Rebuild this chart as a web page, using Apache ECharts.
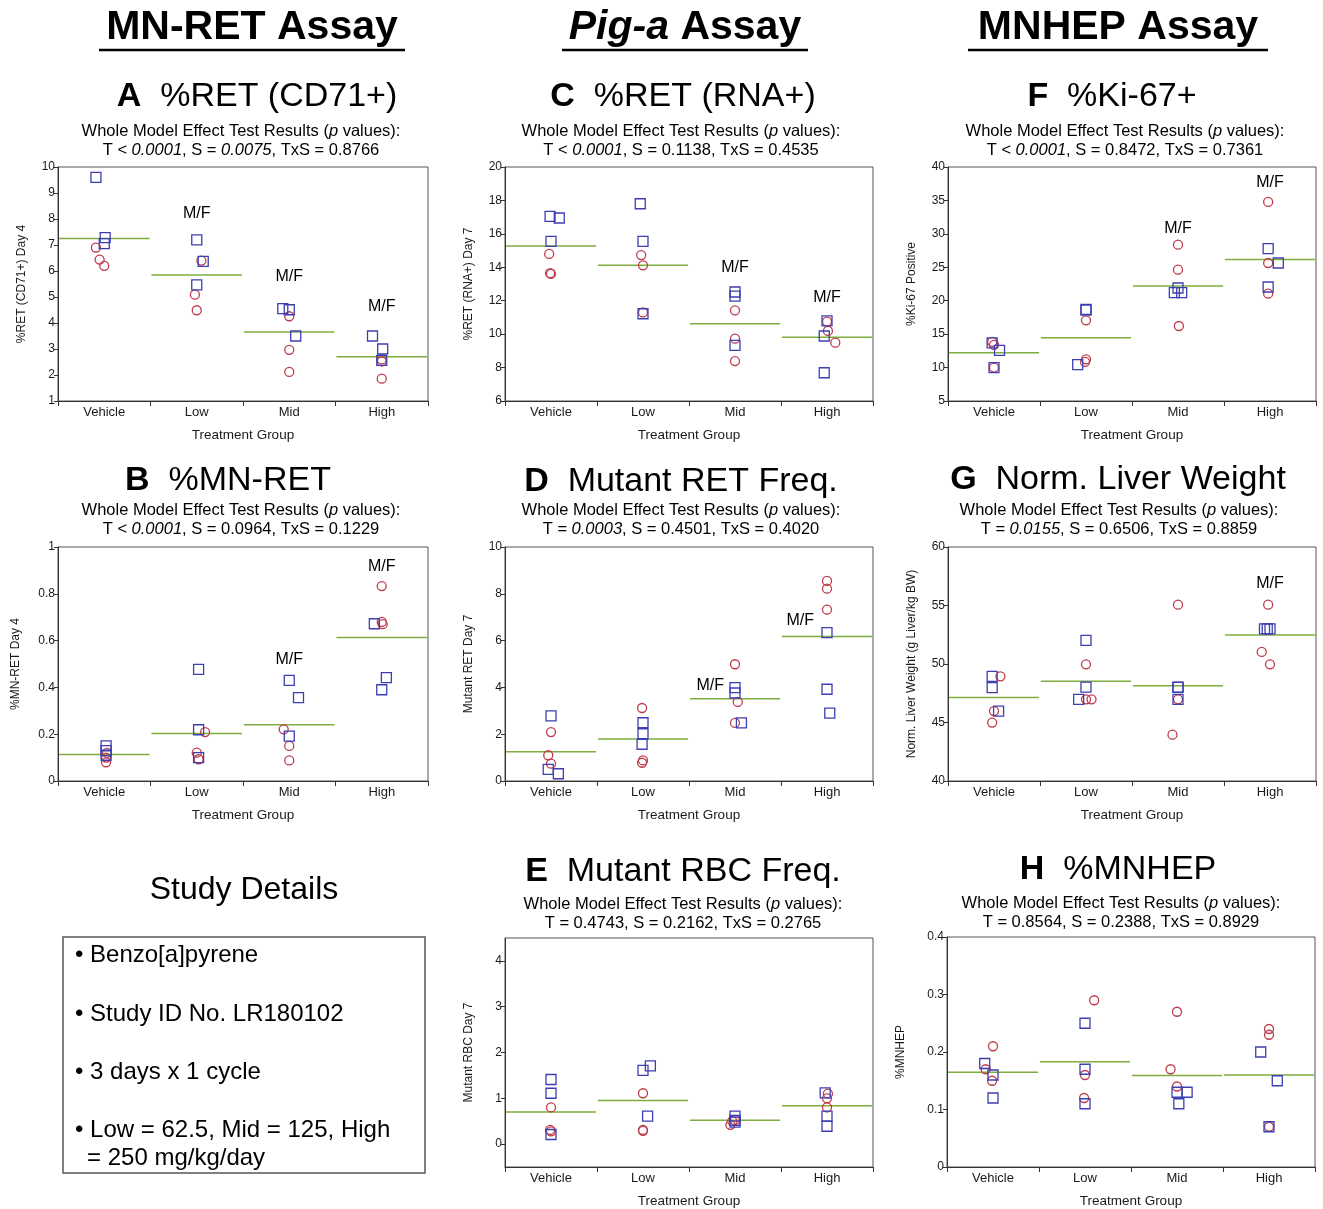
<!DOCTYPE html>
<html>
<head>
<meta charset="utf-8">
<script src="https://cdn.jsdelivr.net/npm/echarts@6/dist/echarts.min.js"></script>
<style>
  html, body { margin: 0; padding: 0; background: #fff; }
  #chart { width: 1323px; height: 1209px; }
</style>
</head>
<body>
<div id="chart"></div>
<script>
// Treatment groups shared by every panel
const groups = ['Vehicle', 'Low', 'Mid', 'High'];

// Per panel: male (squares) and female (circles) values per group,
// horizontal jitter per point (in category units), group means, M/F marker positions.

// A: %RET (CD71+) Day 4
const retCd71Male = [[9.6, 7.28, 7.05], [7.2, 6.37, 5.47], [4.55, 4.51, 3.5], [3.5, 3.0, 2.56]];
const retCd71MaleJit = [[-0.09, 0.01, 0], [0, 0.07, 0], [-0.07, 0, 0.07], [-0.1, 0.01, 0]];
const retCd71Female = [[6.9, 6.44, 6.2], [6.4, 5.09, 4.49], [4.26, 2.97, 2.12], [2.6, 2.52, 1.86]];
const retCd71FemaleJit = [[-0.09, -0.05, 0], [0.05, -0.02, 0], [0, 0, 0], [0, 0, 0]];
const retCd71Means = [7.25, 5.85, 3.65, 2.7];
const retCd71Sig = [[1, 8.2], [2, 5.77], [3, 4.64]];

// C: %RET (RNA+) Day 7
const retRnaMale = [[17.05, 16.95, 15.55], [17.8, 15.55, 11.22], [12.52, 12.28, 9.33], [10.79, 9.89, 7.69]];
const retRnaMaleJit = [[-0.01, 0.09, 0], [-0.03, 0, 0], [0, 0, 0], [0, -0.03, -0.03]];
const retRnaFemale = [[14.8, 13.65, 13.6], [14.73, 14.12, 11.3], [11.42, 9.73, 8.39], [10.75, 10.19, 9.49]];
const retRnaFemaleJit = [[-0.02, -0.01, 0], [-0.02, 0, 0], [0, 0, 0], [0, 0.01, 0.09]];
const retRnaMeans = [15.27, 14.12, 10.62, 9.82];
const retRnaSig = [[2, 14.0], [3, 12.2]];

// F: %Ki-67 positive
const ki67Male = [[13.68, 12.58, 10.0], [18.71, 18.6, 10.44], [21.9, 21.2, 21.2], [27.79, 25.64, 22.05]];
const ki67MaleJit = [[-0.02, 0.06, 0], [0, 0, -0.09], [0, -0.04, 0.04], [-0.02, 0.09, -0.02]];
const ki67Female = [[13.83, 13.4, 10.0], [17.07, 11.24, 10.84], [28.38, 24.65, 16.22], [34.77, 25.64, 21.06]];
const ki67FemaleJit = [[-0.02, 0, 0], [0, 0, -0.01], [0, 0, 0.01], [-0.02, -0.02, -0.02]];
const ki67Means = [12.23, 14.45, 22.2, 26.18];
const ki67Sig = [[2, 30.8], [3, 37.6]];

// B: %MN-RET Day 4
const mnRetMale = [[0.15, 0.13, 0.11], [0.477, 0.219, 0.1], [0.43, 0.356, 0.192], [0.672, 0.442, 0.39]];
const mnRetMaleJit = [[0.02, 0.02, 0.02], [0.02, 0.02, 0.02], [0, 0.1, 0], [-0.08, 0.05, 0]];
const mnRetFemale = [[0.12, 0.1, 0.08], [0.209, 0.121, 0.093], [0.221, 0.15, 0.088], [0.833, 0.68, 0.67]];
const mnRetFemaleJit = [[0.03, 0.02, 0.02], [0.09, 0, 0.02], [-0.06, 0, 0], [0, 0, 0.01]];
const mnRetMeans = [0.113, 0.203, 0.24, 0.613];
const mnRetSig = [[2, 0.52], [3, 0.915]];

// D: Mutant RET Day 7
const mutRetMale = [[2.78, 0.5, 0.31], [2.49, 2.02, 1.57], [3.99, 3.76, 2.48], [6.34, 3.92, 2.9]];
const mutRetMaleJit = [[0, -0.03, 0.08], [0, 0, -0.01], [0, 0, 0.07], [0, 0, 0.03]];
const mutRetFemale = [[2.09, 1.1, 0.74], [3.12, 0.88, 0.78], [4.99, 3.38, 2.48], [8.55, 8.22, 7.32]];
const mutRetFemaleJit = [[0, -0.03, 0], [-0.01, 0, -0.01], [0, 0.03, 0], [0, 0, 0]];
const mutRetMeans = [1.25, 1.8, 3.52, 6.18];
const mutRetSig = [[1.73, 4.09], [2.71, 6.87]];

// G: Normalised liver weight
const liverMale = [[48.95, 47.98, 45.98], [52.02, 48.03, 46.98], [48.03, 48.0, 46.98], [53.0, 53.0, 53.0]];
const liverMaleJit = [[-0.02, -0.02, 0.05], [0, 0, -0.08], [0, 0, 0], [-0.06, 0, -0.03]];
const liverFemale = [[48.95, 45.98, 44.99], [49.97, 46.98, 46.98], [55.07, 46.98, 43.96], [55.07, 51.03, 49.97]];
const liverFemaleJit = [[0.07, 0, -0.02], [0, 0, 0.06], [0, 0, -0.06], [-0.02, -0.09, 0]];
const liverMeans = [47.14, 48.52, 48.14, 52.48];
const liverSig = [[3, 56.87]];

// E: Mutant RBC Day 7
const mutRbcMale = [[1.41, 1.11, 0.21], [1.61, 1.71, 0.61], [0.61, 0.52, 0.48], [1.12, 0.61, 0.39]];
const mutRbcMaleJit = [[0, 0, 0], [0, 0.08, 0.05], [0, 0, 0], [-0.02, 0, 0]];
const mutRbcFemale = [[0.8, 0.31, 0.28], [1.11, 0.31, 0.29], [0.5, 0.42, 0.52], [1.1, 1.0, 0.8]];
const mutRbcFemaleJit = [[0, -0.01, 0], [0, 0, 0], [-0.03, -0.05, 0], [0.01, 0, 0]];
const mutRbcMeans = [0.7, 0.95, 0.52, 0.84];
const mutRbcSig = [];

// H: %MNHEP
const mnhepMale = [[0.18, 0.16, 0.12], [0.25, 0.17, 0.11], [0.13, 0.13, 0.11], [0.2, 0.15, 0.07]];
const mnhepMaleJit = [[-0.09, 0, 0], [0, 0, 0], [0, 0.11, 0.02], [-0.09, 0.09, 0]];
const mnhepFemale = [[0.21, 0.17, 0.15], [0.29, 0.16, 0.12], [0.27, 0.17, 0.14], [0.24, 0.23, 0.07]];
const mnhepFemaleJit = [[0, -0.08, -0.01], [0.1, 0, -0.01], [0, -0.07, 0], [0, 0, 0]];
const mnhepMeans = [0.165, 0.183, 0.159, 0.16];
const mnhepSig = [];

const FONT = '"Liberation Sans", Arial, Helvetica, sans-serif';
const INK = '#1a1a1a';
const MALE_COLOR = '#3c3fb3';
const FEMALE_COLOR = '#bf3a4a';
const MEAN_COLOR = '#7fae3e';

// Panel layout: plot boxes on a 3 x 3 page grid
const COL = [58, 505, 948];
const ROW = [167, 547, 938];
const panels = [
  { left: COL[0], top: ROW[0], width: 370, height: 234, yName: '%RET (CD71+) Day 4', nameGap: 30,
    min: 1, max: 10, interval: 1, male: retCd71Male, maleJit: retCd71MaleJit, female: retCd71Female, femaleJit: retCd71FemaleJit, means: retCd71Means, sig: retCd71Sig },
  { left: COL[1], top: ROW[0], width: 368, height: 234, yName: '%RET (RNA+) Day 7', nameGap: 30,
    min: 6, max: 20, interval: 2, male: retRnaMale, maleJit: retRnaMaleJit, female: retRnaFemale, femaleJit: retRnaFemaleJit, means: retRnaMeans, sig: retRnaSig },
  { left: COL[2], top: ROW[0], width: 368, height: 234, yName: '%Ki-67 Positive', nameGap: 30,
    min: 5, max: 40, interval: 5, male: ki67Male, maleJit: ki67MaleJit, female: ki67Female, femaleJit: ki67FemaleJit, means: ki67Means, sig: ki67Sig },
  { left: COL[0], top: ROW[1], width: 370, height: 234, yName: '%MN-RET Day 4', nameGap: 36,
    min: 0, max: 1, interval: 0.2, male: mnRetMale, maleJit: mnRetMaleJit, female: mnRetFemale, femaleJit: mnRetFemaleJit, means: mnRetMeans, sig: mnRetSig },
  { left: COL[1], top: ROW[1], width: 368, height: 234, yName: 'Mutant RET Day 7', nameGap: 30,
    min: 0, max: 10, interval: 2, male: mutRetMale, maleJit: mutRetMaleJit, female: mutRetFemale, femaleJit: mutRetFemaleJit, means: mutRetMeans, sig: mutRetSig },
  { left: COL[2], top: ROW[1], width: 368, height: 234, yName: 'Norm. Liver Weight (g Liver/kg BW)', nameGap: 30,
    min: 40, max: 60, interval: 5, male: liverMale, maleJit: liverMaleJit, female: liverFemale, femaleJit: liverFemaleJit, means: liverMeans, sig: liverSig },
  { left: COL[1], top: ROW[2], width: 368, height: 235, yName: 'Mutant RBC Day 7', nameGap: 30,
    min: -0.5, max: 4.5, interval: 0.5, ticks: [0, 1, 2, 3, 4], male: mutRbcMale, maleJit: mutRbcMaleJit, female: mutRbcFemale, femaleJit: mutRbcFemaleJit, means: mutRbcMeans, sig: mutRbcSig },
  { left: COL[2] - 1, top: ROW[2] - 1, width: 368, height: 236, yName: '%MNHEP', nameGap: 40,
    min: 0, max: 0.4, interval: 0.1, male: mnhepMale, maleJit: mnhepMaleJit, female: mnhepFemale, femaleJit: mnhepFemaleJit, means: mnhepMeans, sig: mnhepSig }
];

function points(vals, jit) {
  const out = [];
  vals.forEach((row, g) => row.forEach((v, k) => out.push([g + jit[g][k], v])));
  return out;
}

const grids = [], xAxes = [], yAxes = [], series = [];
panels.forEach((p, i) => {
  grids.push({ left: p.left, top: p.top, width: p.width, height: p.height, show: true, borderColor: '#555', borderWidth: 1 });
  xAxes.push({
    gridIndex: i, type: 'category', data: groups, boundaryGap: true, position: 'bottom',
    axisLine: { onZero: false, lineStyle: { color: '#333', width: 1 } },
    axisTick: { show: true, length: 5, lineStyle: { color: '#333' } },
    axisLabel: { fontFamily: FONT, fontSize: 13, color: INK, margin: 5 },
    splitLine: { show: false },
    name: 'Treatment Group', nameLocation: 'middle', nameGap: 27,
    nameTextStyle: { fontFamily: FONT, fontSize: 13.5, color: INK }
  });
  xAxes.push({ gridIndex: i, type: 'value', min: -0.5, max: 3.5, show: false, axisLine: { onZero: false } });
  const y = {
    gridIndex: i, type: 'value', min: p.min, max: p.max, interval: p.interval, position: 'left',
    axisLine: { show: true, onZero: false, lineStyle: { color: '#333', width: 1 } },
    axisTick: { show: true, length: 4, lineStyle: { color: '#333' } },
    axisLabel: { fontFamily: FONT, fontSize: 12, color: INK, margin: 3 },
    splitLine: { show: false },
    name: p.yName, nameLocation: 'middle', nameGap: p.nameGap, nameRotate: 90,
    nameTextStyle: { fontFamily: FONT, fontSize: 12, color: INK }
  };
  if (p.ticks) {
    y.axisTick.customValues = p.ticks;
    y.axisLabel.customValues = p.ticks;
  }
  yAxes.push(y);

  const xi = 2 * i + 1;
  series.push({
    type: 'custom', xAxisIndex: xi, yAxisIndex: i, z: 2, silent: true,
    data: p.means.map((m, g) => [g, m]),
    encode: { x: 0, y: 1 },
    renderItem: (params, api) => {
      const g = api.value(0), m = api.value(1);
      const a = api.coord([g - 0.49, m]), b = api.coord([g + 0.49, m]);
      return { type: 'line', shape: { x1: a[0], y1: a[1], x2: b[0], y2: b[1] },
               style: { stroke: MEAN_COLOR, lineWidth: 1.5 } };
    }
  });
  series.push({
    type: 'scatter', xAxisIndex: xi, yAxisIndex: i, z: 3, symbol: 'circle', symbolSize: 9,
    itemStyle: { color: 'rgba(255,255,255,0)', borderColor: FEMALE_COLOR, borderWidth: 1.3, opacity: 1 },
    data: points(p.female, p.femaleJit)
  });
  series.push({
    type: 'scatter', xAxisIndex: xi, yAxisIndex: i, z: 4, symbol: 'rect', symbolSize: 10,
    itemStyle: { color: 'rgba(255,255,255,0)', borderColor: MALE_COLOR, borderWidth: 1.3, opacity: 1 },
    data: points(p.male, p.maleJit)
  });
  if (p.sig.length) {
    series.push({
      type: 'scatter', xAxisIndex: xi, yAxisIndex: i, z: 5, symbolSize: 0, silent: true,
      itemStyle: { opacity: 1 },
      data: p.sig,
      label: { show: true, position: 'inside', formatter: 'M/F', fontFamily: FONT, fontSize: 16, color: '#000' }
    });
  }
});

// ---- page text ----
const g = [];
function rich(x, y, text, richStyles) {
  g.push({ type: 'text', x: x, y: y, z: 10,
    style: { text: text, rich: richStyles, align: 'center', verticalAlign: 'middle', fill: INK, fontFamily: FONT } });
}
const headStyles = {
  b: { fontFamily: FONT, fontSize: 41, fontWeight: 'bold', fill: '#000' },
  bi: { fontFamily: FONT, fontSize: 41, fontWeight: 'bold', fontStyle: 'italic', fill: '#000' }
};
rich(252, 28, '{b|MN-RET Assay}', headStyles);
rich(685, 28, '{bi|Pig-a}{b| Assay}', headStyles);
rich(1118, 28, '{b|MNHEP Assay}', headStyles);
[[99, 405], [562, 808], [968, 1268]].forEach(([a, b]) => {
  g.push({ type: 'line', z: 10, shape: { x1: a, y1: 50, x2: b, y2: 50 }, style: { stroke: '#000', lineWidth: 2.5 } });
});

const titleStyles = {
  b: { fontFamily: FONT, fontSize: 34, fontWeight: 'bold', fill: '#000' },
  r: { fontFamily: FONT, fontSize: 34, fill: '#000' }
};
const subStyles = {
  n: { fontFamily: FONT, fontSize: 16.5, fill: '#000' },
  i: { fontFamily: FONT, fontSize: 16.5, fontStyle: 'italic', fill: '#000' }
};
function panelTitle(cx, cy, letter, name, scx, sy, tPart, sPart, rest) {
  rich(cx, cy, '{b|' + letter + '}{r|  ' + name + '}', titleStyles);
  rich(scx, sy, '{n|Whole Model Effect Test Results (}{i|p}{n| values):}', subStyles);
  rich(scx, sy + 19, tPart + sPart + rest, subStyles);
}
panelTitle(257, 97, 'A', '%RET (CD71+)', 241, 131, '{n|T < }{i|0.0001}', '{n|, S = }{i|0.0075}', '{n|, TxS = 0.8766}');
panelTitle(683, 97, 'C', '%RET (RNA+)', 681, 131, '{n|T < }{i|0.0001}', '{n|, S = 0.1138}', '{n|, TxS = 0.4535}');
panelTitle(1112, 97, 'F', '%Ki-67+', 1125, 131, '{n|T < }{i|0.0001}', '{n|, S = 0.8472}', '{n|, TxS = 0.7361}');
panelTitle(228, 481, 'B', '%MN-RET', 241, 510, '{n|T < }{i|0.0001}', '{n|, S = 0.0964}', '{n|, TxS = 0.1229}');
panelTitle(681, 482, 'D', 'Mutant RET Freq.', 681, 510, '{n|T = }{i|0.0003}', '{n|, S = 0.4501}', '{n|, TxS = 0.4020}');
panelTitle(1118, 480, 'G', 'Norm. Liver Weight', 1119, 510, '{n|T = }{i|0.0155}', '{n|, S = 0.6506}', '{n|, TxS = 0.8859}');
panelTitle(683, 872, 'E', 'Mutant RBC Freq.', 683, 904, '{n|T = 0.4743}', '{n|, S = 0.2162}', '{n|, TxS = 0.2765}');
panelTitle(1118, 870, 'H', '%MNHEP', 1121, 903, '{n|T = 0.8564}', '{n|, S = 0.2388}', '{n|, TxS = 0.8929}');

// Study details block
g.push({ type: 'text', x: 244, y: 890, z: 10,
  style: { text: 'Study Details', fontFamily: FONT, fontSize: 32, fill: '#000', align: 'center', verticalAlign: 'middle' } });
g.push({ type: 'rect', z: 10, shape: { x: 63, y: 937, width: 362, height: 236 },
  style: { fill: 'none', stroke: '#555', lineWidth: 1.5 } });
const details = [
  ['• Benzo[a]pyrene', 75, 955],
  ['• Study ID No. LR180102', 75, 1014],
  ['• 3 days x 1 cycle', 75, 1072],
  ['• Low = 62.5, Mid = 125, High', 75, 1130],
  ['= 250 mg/kg/day', 87, 1158]
];
details.forEach(([t, x, y]) => {
  g.push({ type: 'text', x: x, y: y, z: 10,
    style: { text: t, fontFamily: FONT, fontSize: 24, fill: '#000', align: 'left', verticalAlign: 'middle' } });
});

const chart = echarts.init(document.getElementById('chart'), null, { renderer: 'canvas' });
chart.setOption({
  animation: false,
  backgroundColor: '#fff',
  grid: grids,
  xAxis: xAxes,
  yAxis: yAxes,
  series: series,
  graphic: g
});
</script>
</body>
</html>
